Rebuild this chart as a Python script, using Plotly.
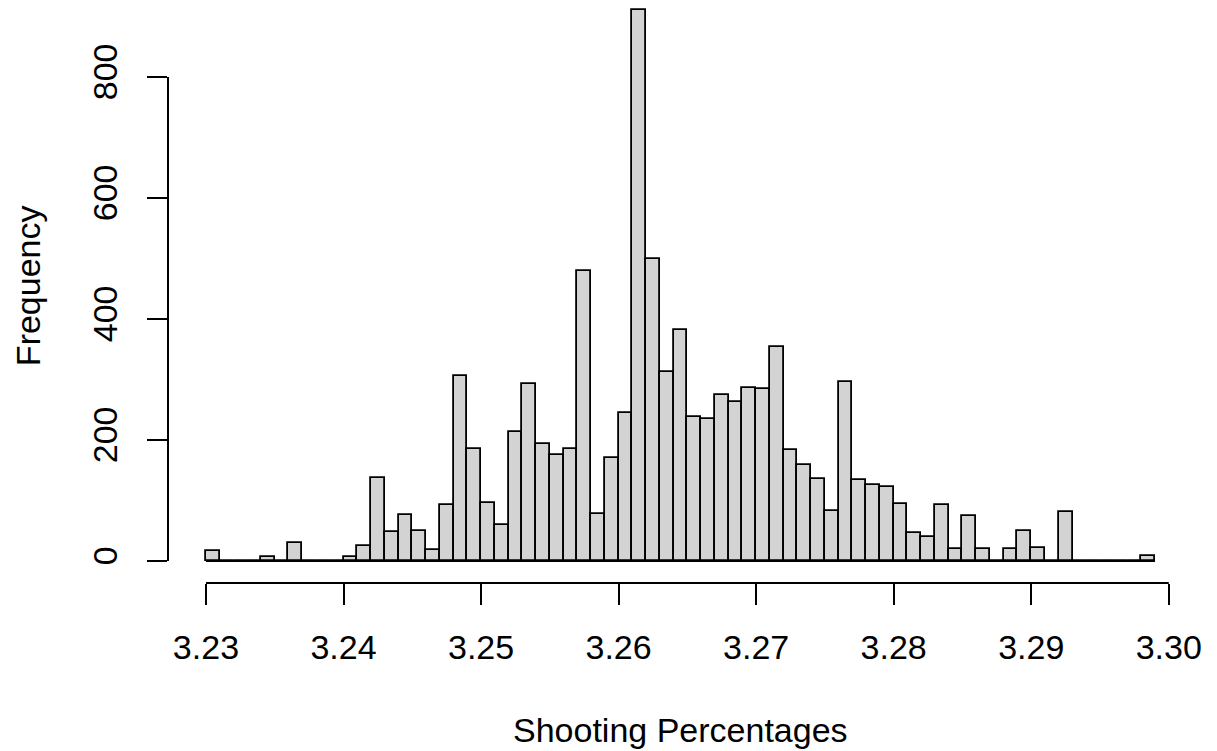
import plotly.graph_objects as go

# Histogram bins (left edges, bin width 0.001) and counts
bin_starts = [3.230, 3.231, 3.232, 3.233, 3.234, 3.235, 3.236, 3.237, 3.238, 3.239,
              3.240, 3.241, 3.242, 3.243, 3.244, 3.245, 3.246, 3.247, 3.248, 3.249,
              3.250, 3.251, 3.252, 3.253, 3.254, 3.255, 3.256, 3.257, 3.258, 3.259,
              3.260, 3.261, 3.262, 3.263, 3.264, 3.265, 3.266, 3.267, 3.268, 3.269,
              3.270, 3.271, 3.272, 3.273, 3.274, 3.275, 3.276, 3.277, 3.278, 3.279,
              3.280, 3.281, 3.282, 3.283, 3.284, 3.285, 3.286, 3.287, 3.288, 3.289,
              3.290, 3.291, 3.292, 3.293, 3.294, 3.295, 3.296, 3.297, 3.298]
counts = [16, 0, 0, 0, 6, 0, 30, 0, 0, 0,
          6, 25, 137, 48, 76, 50, 18, 92, 306, 185,
          96, 59, 213, 293, 193, 175, 185, 480, 78, 170,
          244, 910, 499, 313, 381, 238, 234, 275, 262, 286,
          284, 354, 183, 158, 135, 82, 296, 134, 125, 123,
          94, 47, 39, 92, 20, 74, 20, 0, 20, 50,
          22, 0, 81, 0, 0, 0, 0, 0, 9]
bin_width = 0.001

x_ticks = [3.23, 3.24, 3.25, 3.26, 3.27, 3.28, 3.29, 3.30]
x_tick_text = ["3.23", "3.24", "3.25", "3.26", "3.27", "3.28", "3.29", "3.30"]
y_ticks = [0, 200, 400, 600, 800]
y_tick_text = ["0", "200", "400", "600", "800"]

FONT = "Liberation Sans, Arial, sans-serif"
FS = 34

fig = go.Figure()
fig.add_trace(go.Bar(
    x=bin_starts,
    y=counts,
    width=[bin_width] * len(bin_starts),
    offset=0,
    marker=dict(color="#D3D3D3", line=dict(color="black", width=1.8)),
    hoverinfo="x+y",
    cliponaxis=False,
))

# R-style detached axis lines (span only the tick range)
fig.add_shape(type="line", xref="x", yref="paper", x0=x_ticks[0], x1=x_ticks[-1],
              y0=0, y1=0, line=dict(color="black", width=2))
fig.add_shape(type="line", xref="paper", yref="y", x0=0, x1=0,
              y0=y_ticks[0], y1=y_ticks[-1], line=dict(color="black", width=2))
# baseline under empty bins
fig.add_shape(type="line", xref="x", yref="y", x0=bin_starts[0], x1=bin_starts[-1] + bin_width,
              y0=0, y1=0, line=dict(color="black", width=1.8), layer="above")

fig.update_layout(
    width=1209, height=743, autosize=False,
    margin=dict(l=160, r=24, t=0, b=168, pad=0),
    paper_bgcolor="white", plot_bgcolor="white",
    bargap=0, showlegend=False,
    font=dict(family=FONT, size=FS, color="black"),
    xaxis=dict(range=[3.22724, 3.30176], showgrid=False, zeroline=False, showline=False,
               tickmode="array", tickvals=x_ticks, ticktext=x_tick_text,
               ticks="outside", ticklen=21, tickwidth=2, tickcolor="black",
               ticklabelstandoff=13,
               tickfont=dict(family=FONT, size=FS, color="black")),
    yaxis=dict(range=[-36.4, 914.0], showgrid=False, zeroline=False, showline=False,
               tickmode="array", tickvals=y_ticks, ticktext=y_tick_text,
               ticks="outside", ticklen=20, tickwidth=2, tickcolor="black",
               tickangle=-90, ticklabelstandoff=16,
               tickfont=dict(family=FONT, size=FS, color="black")),
    annotations=[
        dict(text="Shooting Percentages", xref="paper", yref="paper", x=0.5, y=-0.2557,
             xanchor="center", yanchor="middle", showarrow=False,
             font=dict(family=FONT, size=FS, color="black")),
        dict(text="Frequency", xref="paper", yref="paper", x=-0.1366, y=0.518,
             xanchor="center", yanchor="middle", showarrow=False, textangle=-90,
             font=dict(family=FONT, size=FS, color="black")),
    ],
)

fig.write_html("out.html")
